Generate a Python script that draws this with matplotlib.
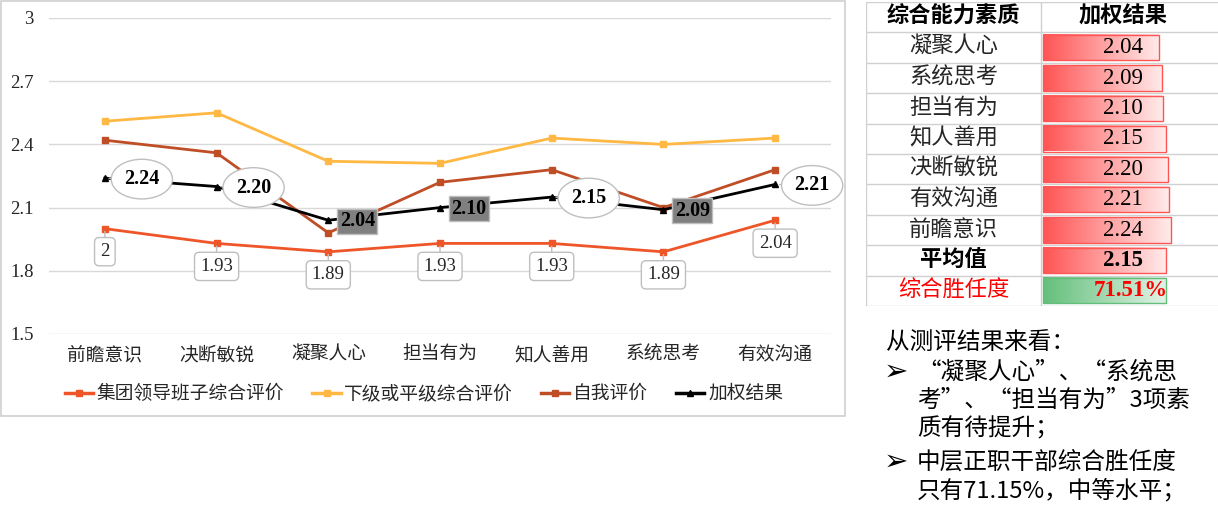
import numpy as np
import matplotlib
matplotlib.use('Agg')
import matplotlib.pyplot as plt
from matplotlib.patches import Rectangle
from matplotlib.lines import Line2D

plt.rcParams['font.family'] = ['Liberation Serif', 'Noto Sans CJK SC', 'DejaVu Sans']

# ---- data ----
categories = ['前瞻意识', '决断敏锐', '凝聚人心', '担当有为', '知人善用', '系统思考', '有效沟通']
leader = [2.00, 1.93, 1.89, 1.93, 1.93, 1.89, 2.04]
peer = [2.51, 2.55, 2.32, 2.31, 2.43, 2.40, 2.43]
self_eval = [2.42, 2.36, 1.98, 2.22, 2.28, 2.10, 2.28]
weighted = [2.24, 2.20, 2.04, 2.10, 2.15, 2.09, 2.21]
series_names = ['集团领导班子综合评价', '下级或平级综合评价', '自我评价', '加权结果']
yticks = [1.5, 1.8, 2.1, 2.4, 2.7, 3]

table_header = ['综合能力素质', '加权结果']
avg_label = '平均值'
comp_label = '综合胜任度'
competency = 0.7151

notes = ['从测评结果来看：',
         '“凝聚人心”、“系统思',
         '考”、“担当有为”3项素',
         '质有待提升；',
         '中层正职干部综合胜任度',
         '只有71.15%，中等水平；']

W, H = 1218, 519
fig = plt.figure(figsize=(W / 100, H / 100), dpi=100)


def fx(x):
    return x / W


def fy(y):
    return 1 - y / H


# chart frame
fig.patches.append(Rectangle((fx(1), fy(416)), fx(844), 415 / H, transform=fig.transFigure,
                             fill=False, ec='#D0D0D0', lw=1.2))

ax = fig.add_axes([fx(49), fy(334), fx(782), 316 / H])
x = np.arange(len(categories))
c_leader, c_peer, c_self = '#EE5528', '#FFB843', '#BF4E27'

ax.plot(x, leader, color=c_leader, lw=2, marker='s', ms=5, zorder=3)
ax.plot(x, peer, color=c_peer, lw=2, marker='s', ms=5, zorder=3)
ax.plot(x, self_eval, color=c_self, lw=2, marker='s', ms=5, zorder=3)
ax.plot(x, weighted, color='black', lw=2, marker='^', ms=5, zorder=4)

ax.set_xlim(-0.5, len(categories) - 0.5)
ax.set_ylim(1.5, 3)
ax.set_yticks(yticks)
ax.set_yticklabels(['%g' % t for t in yticks])
ax.set_xticks(x)
ax.set_xticklabels(categories)
ax.tick_params(axis='y', length=0, pad=11, labelsize=13.5, colors='#262626')
ax.tick_params(axis='x', length=0, pad=9, labelsize=13.5, colors='#262626')
ax.grid(axis='y', color='#D9D9D9', lw=1)
ax.set_axisbelow(True)
for s in ax.spines.values():
    s.set_visible(False)

k = 0.72  # px -> pt at 100 dpi
for i, v in enumerate(leader):
    ax.annotate('%g' % v, xy=(i, v), xytext=(0, -23 * k), textcoords='offset points',
                ha='center', va='center', fontsize=13.5, color='#262626', zorder=5,
                bbox=dict(boxstyle='round,pad=0.3,rounding_size=0.25', fc='white', ec='#BFBFBF', lw=1),
                arrowprops=dict(arrowstyle='-', color='#BFBFBF', lw=1, shrinkA=0, shrinkB=2))

low = set(np.argsort(weighted)[:3])
for i, v in enumerate(weighted):
    if i in low:
        ax.annotate('%.2f' % v, xy=(i, v), xytext=(29 * k, -1 * k), textcoords='offset points',
                    ha='center', va='center', fontsize=14.5, fontweight='bold', color='black', zorder=6,
                    bbox=dict(boxstyle='square,pad=0.12', fc='#808080', ec='#BFBFBF', lw=1))
    else:
        ax.annotate('%.2f' % v, xy=(i, v), xytext=(37 * k, -1 * k), textcoords='offset points',
                    ha='center', va='center', fontsize=14.5, fontweight='bold', color='black', zorder=6,
                    bbox=dict(boxstyle='ellipse,pad=0.2', fc='white', ec='#BFBFBF', lw=1),
                    arrowprops=dict(arrowstyle='-', color='#BFBFBF', lw=1, shrinkA=0, shrinkB=3))

handles = [Line2D([], [], color=c, lw=2.5, marker=m, ms=5)
           for c, m in zip([c_leader, c_peer, c_self, 'black'], ['s', 's', 's', '^'])]
fig.legend(handles, series_names, loc='center', bbox_to_anchor=(fx(424), fy(394)), ncol=4,
           frameon=False, fontsize=13.5, handlelength=1.5, handletextpad=0.2, columnspacing=1.5,
           labelcolor='#262626')

# ---- table ----
tx0, tx1, ty0, ty1 = 866, 1218, 2, 306
at = fig.add_axes([fx(tx0), fy(ty1), fx(tx1 - tx0), (ty1 - ty0) / H])
at.set_xlim(tx0, tx1)
at.set_ylim(ty1, ty0)
at.set_autoscale_on(False)
at.axis('off')

order = np.argsort(weighted)
rows = [(categories[j], weighted[j]) for j in order]
avg_value = round(float(np.mean(weighted)), 2)
n_rows = len(rows) + 3
rh = (ty1 - ty0) / n_rows
col_split = 1041
c1 = (tx0 + col_split) / 2
c2 = 1123
bar_x0 = 1043
bar_scale = 57


def gradient_bar(y_top, length, c_start, c_end, c_edge):
    g = np.linspace(0, 1, 100)[None, :, None]
    img = np.array(c_start)[None, None, :] * (1 - g) + np.array(c_end)[None, None, :] * g
    y0b, y1b = y_top + 2.5, y_top + rh - 2.5
    at.imshow(img, extent=(bar_x0, bar_x0 + length, y1b, y0b), aspect='auto', zorder=1,
              interpolation='bilinear')
    at.add_patch(Rectangle((bar_x0, y0b), length, y1b - y0b, fill=False, ec=c_edge, lw=1, zorder=2))


red0, red1 = (1.0, 0.33, 0.33), (1.0, 0.92, 0.92)
for r in range(n_rows + 1):
    at.plot([tx0, tx1], [ty0 + r * rh] * 2, color='#D0D0D0', lw=1, zorder=0)
for xv in [tx0, col_split]:
    at.plot([xv, xv], [ty0, ty1], color='#D0D0D0', lw=1, zorder=0)

at.text(c1, ty0 + rh / 2, table_header[0], ha='center', va='center', fontsize=16, fontweight='bold')
at.text(c2, ty0 + rh / 2, table_header[1], ha='center', va='center', fontsize=16, fontweight='bold')
for r, (name, v) in enumerate(rows):
    yt = ty0 + (r + 1) * rh
    gradient_bar(yt, v * bar_scale, red0, red1, '#FF5555')
    at.text(c1, yt + rh / 2, name, ha='center', va='center', fontsize=16, color='#262626')
    at.text(c2, yt + rh / 2, '%.2f' % v, ha='center', va='center', fontsize=16.5, zorder=3)

yt = ty0 + (len(rows) + 1) * rh
gradient_bar(yt, avg_value * bar_scale, red0, red1, '#FF5555')
at.text(c1, yt + rh / 2, avg_label, ha='center', va='center', fontsize=16, fontweight='bold')
at.text(c2, yt + rh / 2, '%.2f' % avg_value, ha='center', va='center', fontsize=16.5,
        fontweight='bold', zorder=3)

yt = ty0 + (len(rows) + 2) * rh
gradient_bar(yt, competency * 172, (0.39, 0.75, 0.48), (0.88, 0.95, 0.90), '#63BE7B')
at.text(c1, yt + rh / 2, comp_label, ha='center', va='center', fontsize=16, color='#FF0000')
at.text(c2 + 8, yt + rh / 2, '%.2f%%' % (competency * 100), ha='center', va='center', fontsize=16.5,
        fontweight='bold', color='#FF0000', zorder=3)

# ---- notes ----
note_y = [343, 372, 400, 429, 462, 491]
fs = 17
cjk = ['Noto Sans CJK SC', 'DejaVu Sans']
fig.text(fx(886), fy(note_y[0]), notes[0], fontsize=fs, va='center', ha='left', family=cjk)
for t, yv in zip(notes[1:], note_y[1:]):
    fig.text(fx(917), fy(yv), t, fontsize=fs, va='center', ha='left', family=cjk)
for yv in [note_y[1], note_y[4]]:
    fig.text(fx(884), fy(yv), '➢', fontsize=21, va='center', ha='left', family=['DejaVu Sans'])

fig.savefig('out.png', dpi=100)
